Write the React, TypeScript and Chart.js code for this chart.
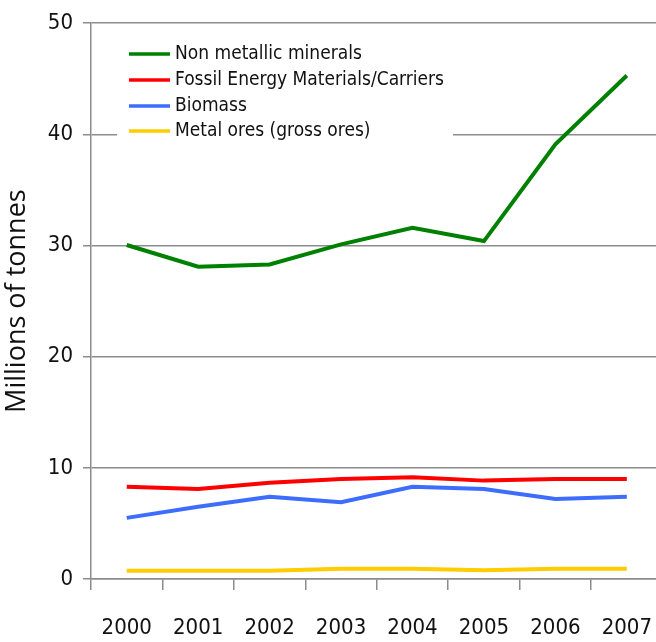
import React, { useEffect, useRef } from "react";
import { Chart, registerables } from "chart.js";

Chart.register(...registerables);

const years = ["2000", "2001", "2002", "2003", "2004", "2005", "2006", "2007"];
const nonMetallic = [30.05, 28.1, 28.3, 30.1, 31.6, 30.4, 39.1, 45.3];
const fossil = [8.3, 8.1, 8.65, 9.0, 9.15, 8.85, 9.0, 9.0];
const biomass = [5.5, 6.5, 7.4, 6.9, 8.3, 8.1, 7.2, 7.4];
const metalOres = [0.75, 0.75, 0.75, 0.93, 0.93, 0.78, 0.93, 0.93];
const seriesNames = [
  "Non metallic minerals",
  "Fossil Energy Materials/Carriers",
  "Biomass",
  "Metal ores (gross ores)",
];
const seriesColors = ["#008000", "#ff0000", "#3d6dff", "#ffcc00"];
const yTicks = [0, 10, 20, 30, 40, 50];
const yTitle = "Millions of tonnes";

const FONT = "'DejaVu Sans Condensed', 'Liberation Sans Narrow', 'Open Sans', sans-serif";
const TITLE_FONT = "'Open Sans', 'DejaVu Sans', sans-serif";

const legendPlugin = {
  id: "insideLegend",
  beforeDatasetsDraw(chart: any) {
    const ctx = chart.ctx;
    ctx.save();
    ctx.fillStyle = "#ffffff";
    ctx.fillRect(117, 36, 336, 112);
    const rows = [54, 80, 106, 131];
    chart.data.datasets.forEach((ds: any, i: number) => {
      const y = rows[i];
      ctx.strokeStyle = ds.borderColor;
      ctx.lineWidth = 3.5;
      ctx.beginPath();
      ctx.moveTo(129, y);
      ctx.lineTo(170, y);
      ctx.stroke();
      ctx.fillStyle = "#111111";
      ctx.font = `19px ${FONT}`;
      ctx.textBaseline = "middle";
      ctx.textAlign = "left";
      ctx.fillText(ds.label, 175, y);
    });
    ctx.restore();
  },
};

export default function App() {
  const ref = useRef<HTMLCanvasElement | null>(null);
  useEffect(() => {
    if (!ref.current) return;
    const values = [nonMetallic, fossil, biomass, metalOres];
    const chart = new Chart(ref.current, {
      type: "line",
      data: {
        labels: years,
        datasets: values.map((v, i) => ({
          label: seriesNames[i],
          data: v,
          borderColor: seriesColors[i],
          backgroundColor: seriesColors[i],
          borderWidth: 4,
          pointRadius: 0,
          tension: 0,
        })),
      },
      options: {
        animation: false,
        responsive: false,
        layout: { padding: { top: 22, left: 0, right: 0, bottom: 0 } },
        plugins: { legend: { display: false }, tooltip: { enabled: false } },
        scales: {
          x: {
            type: "category",
            offset: true,
            grid: {
              offset: true,
              drawOnChartArea: false,
              drawTicks: true,
              tickLength: 11,
              color: "#8c8c8c",
              lineWidth: 1.5,
            },
            border: { color: "#8c8c8c", width: 1.5 },
            ticks: {
              color: "#111111",
              font: { family: FONT, size: 22 },
              padding: 25,
              maxRotation: 0,
              autoSkip: false,
            },
            afterFit: (s: any) => {
              s.height = 63;
            },
          },
          y: {
            min: 0,
            max: 50,
            afterBuildTicks: (s: any) => {
              s.ticks = yTicks.map((v) => ({ value: v }));
            },
            grid: {
              color: "#8c8c8c",
              lineWidth: 1.5,
              tickLength: 8,
            },
            border: { color: "#8c8c8c", width: 1.5 },
            ticks: {
              color: "#111111",
              font: { family: FONT, size: 22 },
              padding: 10,
            },
            title: {
              display: true,
              text: yTitle,
              color: "#111111",
              font: { family: TITLE_FONT, size: 27 },
              padding: { top: 1, bottom: 0 },
            },
            afterFit: (s: any) => {
              s.width = 91;
            },
          },
        },
      },
      plugins: [legendPlugin],
    });
    return () => chart.destroy();
  }, []);
  return (
    <div
      style={{
        position: "fixed",
        left: 0,
        top: 0,
        width: 656,
        height: 642,
        overflow: "hidden",
        background: "#fff",
      }}
    >
      <canvas ref={ref} width={677} height={642} style={{ display: "block" }} />
    </div>
  );
}
